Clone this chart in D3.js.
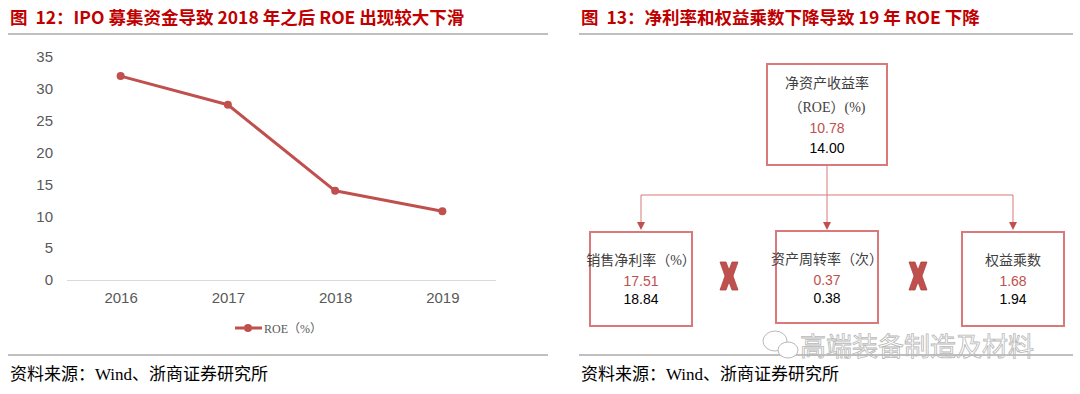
<!DOCTYPE html>
<html>
<head>
<meta charset="utf-8">
<script src="https://cdn.jsdelivr.net/npm/d3@7"></script>
<style>
  body { margin: 0; background: #fff; }
  svg { display: block; }
</style>
</head>
<body>
<div id="chart"></div>
<script>
const years = ['2016', '2017', '2018', '2019'];
const roe = [32.0, 27.5, 14.0, 10.78];
const yTicks = [0, 5, 10, 15, 20, 25, 30, 35];

const topLabel = ['净资产收益率', '（ROE）(%)'];
const topValues = ['10.78', '14.00'];
const factors = ['销售净利率（%）', '资产周转率（次）', '权益乘数'];
const factors2019 = ['17.51', '0.37', '1.68'];
const factors2018 = ['18.84', '0.38', '1.94'];

const width = 1080;
const height = 394;
const red = '#c0504d';
const titleRed = '#c00000';
const cjk = '"Noto Sans CJK SC", sans-serif';
const serif = '"Liberation Serif", "Noto Sans CJK SC", serif';
const num = '"Liberation Sans", Arial, sans-serif';

const svg = d3.select('#chart').append('svg')
  .attr('width', width).attr('height', height);

// titles + rules
const titles = [
  { x: 10, x1: 8, x2: 548, text: '图\u00a0\u00a012：IPO 募集资金导致 2018 年之后 ROE 出现较大下滑' },
  { x: 581, x1: 579, x2: 1073, text: '图\u00a0\u00a013：净利率和权益乘数下降导致 19 年 ROE 下降' }
];
titles.forEach(t => {
  svg.append('text')
    .attr('x', t.x).attr('y', 24)
    .attr('font-family', cjk).attr('font-weight', 700)
    .attr('font-size', 17.5).attr('fill', titleRed)
    .text(t.text);
  svg.append('line')
    .attr('x1', t.x1).attr('x2', t.x2).attr('y1', 34).attr('y2', 34)
    .attr('stroke', '#bfbfbf').attr('stroke-width', 2);
  svg.append('line')
    .attr('x1', t.x1).attr('x2', t.x2).attr('y1', 355).attr('y2', 355)
    .attr('stroke', '#808080').attr('stroke-width', 1);
  svg.append('text')
    .attr('x', t.x).attr('y', 380)
    .attr('font-family', serif).attr('font-size', 17).attr('fill', '#000')
    .text('资料来源：Wind、浙商证券研究所');
});

// ---- left line chart ----
const x = d3.scalePoint().domain(years).range([67, 496]).padding(0.5);
const y = d3.scaleLinear().domain([0, 35]).range([280, 57]);

svg.append('g')
  .attr('transform', 'translate(67,0)')
  .call(d3.axisLeft(y).tickValues(yTicks).tickSize(0).tickPadding(14))
  .call(g => g.select('.domain').remove())
  .call(g => g.selectAll('text')
    .attr('font-family', num).attr('font-size', 15).attr('fill', '#595959'));

svg.append('g')
  .attr('transform', 'translate(0,280)')
  .call(d3.axisBottom(x).tickSize(0).tickPadding(12))
  .call(g => g.select('.domain').attr('stroke', '#d9d9d9').attr('d', 'M67,0.5H496'))
  .call(g => g.selectAll('text')
    .attr('font-family', num).attr('font-size', 15).attr('fill', '#595959'));

const line = d3.line().x((d, i) => x(years[i])).y(d => y(d));
svg.append('path')
  .datum(roe)
  .attr('d', line)
  .attr('fill', 'none').attr('stroke', red).attr('stroke-width', 3)
  .attr('stroke-linejoin', 'round');

svg.selectAll('.pt').data(roe).join('circle')
  .attr('cx', (d, i) => x(years[i])).attr('cy', d => y(d))
  .attr('r', 4).attr('fill', red);

// legend
svg.append('line')
  .attr('x1', 235).attr('x2', 262).attr('y1', 328).attr('y2', 328)
  .attr('stroke', red).attr('stroke-width', 3);
svg.append('circle').attr('cx', 248).attr('cy', 328).attr('r', 4).attr('fill', red);
svg.append('text')
  .attr('x', 264).attr('y', 333)
  .attr('font-family', serif).attr('font-size', 12).attr('fill', '#595959')
  .text('ROE（%）');

// ---- right diagram ----
const boxStroke = '#d9797a';
const cx = d3.scalePoint().domain(factors).range([641, 1013]);

// top box
svg.append('rect')
  .attr('x', 767).attr('y', 64).attr('width', 120).attr('height', 101)
  .attr('fill', '#fff').attr('stroke', boxStroke).attr('stroke-width', 2);
const topLines = [
  { t: topLabel[0], y: 88, f: serif, c: '#404040' },
  { t: topLabel[1], y: 112, f: serif, c: '#404040' },
  { t: topValues[0], y: 133, f: num, c: red },
  { t: topValues[1], y: 153, f: num, c: '#000' }
];
topLines.forEach(l => {
  svg.append('text')
    .attr('x', 827).attr('y', l.y).attr('text-anchor', 'middle')
    .attr('font-family', l.f).attr('font-size', 14).attr('fill', l.c)
    .text(l.t);
});

// connectors
const conn = '#d9797a';
svg.append('line')
  .attr('x1', 827).attr('x2', 827).attr('y1', 165).attr('y2', 195)
  .attr('stroke', conn).attr('stroke-width', 1);
svg.append('line')
  .attr('x1', cx(factors[0])).attr('x2', cx(factors[2])).attr('y1', 195).attr('y2', 195)
  .attr('stroke', conn).attr('stroke-width', 1);
factors.forEach(f => {
  const px = cx(f);
  svg.append('line')
    .attr('x1', px).attr('x2', px).attr('y1', 195).attr('y2', 224)
    .attr('stroke', conn).attr('stroke-width', 1);
  svg.append('path')
    .attr('d', `M${px - 4},${222} L${px + 4},${222} L${px},${230} Z`)
    .attr('fill', red);
});

// factor boxes
factors.forEach((f, i) => {
  const px = cx(f);
  const top = i === 1 ? 231 : 232;
  const bh = i === 1 ? 92 : 94;
  svg.append('rect')
    .attr('x', px - 51).attr('y', top).attr('width', 102).attr('height', bh)
    .attr('fill', '#fff').attr('stroke', boxStroke).attr('stroke-width', 2);
  svg.append('text')
    .attr('x', px).attr('y', top + 33).attr('text-anchor', 'middle')
    .attr('font-family', serif).attr('font-size', 14).attr('fill', '#404040')
    .text(f);
  svg.append('text')
    .attr('x', px).attr('y', top + 54).attr('text-anchor', 'middle')
    .attr('font-family', num).attr('font-size', 14).attr('fill', red)
    .text(factors2019[i]);
  svg.append('text')
    .attr('x', px).attr('y', top + 72).attr('text-anchor', 'middle')
    .attr('font-family', num).attr('font-size', 14).attr('fill', '#000')
    .text(factors2018[i]);
});

// multiplication marks between boxes
const xMark = 'M-9,-14 L-3,-14 L0,-6 L3,-14 L9,-14 L4,0 L9,14 L3,14 L0,6 L-3,14 L-9,14 L-4,0 Z';
[729, 918].forEach(mx => {
  svg.append('path')
    .attr('transform', `translate(${mx},276)`)
    .attr('d', xMark)
    .attr('fill', red)
    .attr('stroke', '#a94442').attr('stroke-width', 0.8).attr('stroke-linejoin', 'round');
});

// watermark
svg.append('text')
  .attr('x', 800).attr('y', 356)
  .attr('font-family', cjk).attr('font-size', 26)
  .attr('fill', 'none').attr('stroke', '#b8b8b8').attr('stroke-width', 0.8)
  .text('高端装备制造及材料');
const wm = svg.append('g').attr('fill', '#fff').attr('stroke', '#b8b8b8').attr('stroke-width', 1);
wm.append('ellipse').attr('cx', 775).attr('cy', 341).attr('rx', 12).attr('ry', 10);
wm.append('ellipse').attr('cx', 788).attr('cy', 350).attr('rx', 10).attr('ry', 8);
</script>
</body>
</html>
